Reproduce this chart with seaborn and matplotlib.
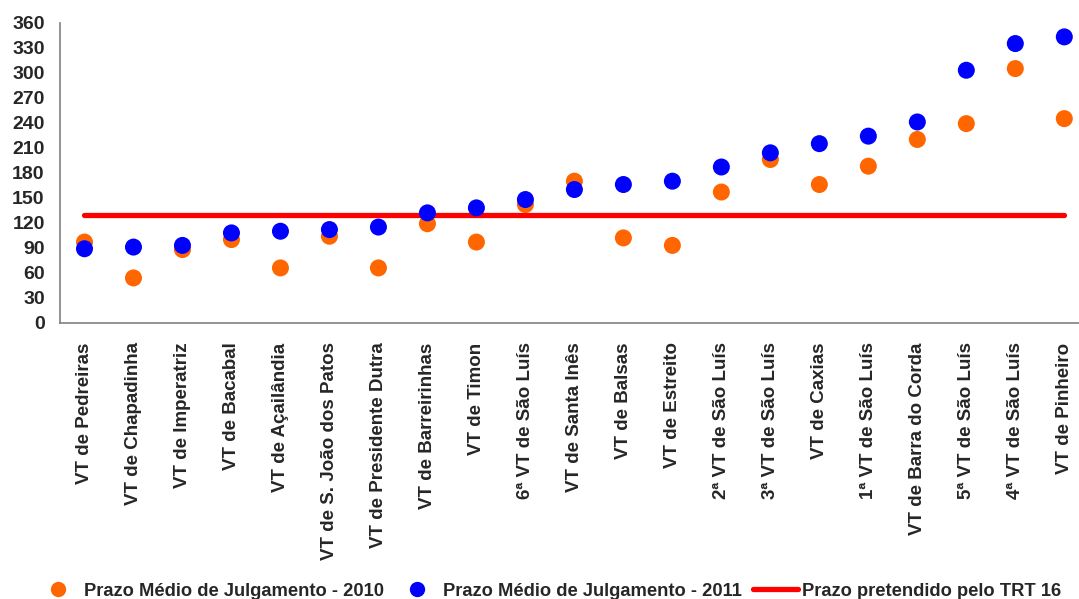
import numpy as np
import pandas as pd
import matplotlib
matplotlib.use('Agg')
import matplotlib.pyplot as plt
import seaborn as sns

# data
varas = ['VT de Pedreiras', 'VT de Chapadinha', 'VT de Imperatriz', 'VT de Bacabal',
         'VT de Açailândia', 'VT de S. João dos Patos', 'VT de Presidente Dutra',
         'VT de Barreirinhas', 'VT de Timon', '6ª VT de São Luís', 'VT de Santa Inês',
         'VT de Balsas', 'VT de Estreito', '2ª VT de São Luís', '3ª VT de São Luís',
         'VT de Caxias', '1ª VT de São Luís', 'VT de Barra do Corda', '5ª VT de São Luís',
         '4ª VT de São Luís', 'VT de Pinheiro']
prazo_2010 = [97, 54, 88, 100, 66, 104, 66, 119, 97, 142, 170, 102, 93, 157, 196,
              166, 188, 220, 239, 305, 245]
prazo_2011 = [89, 91, 93, 108, 110, 112, 115, 132, 138, 148, 160, 166, 170, 187, 204,
              215, 224, 241, 303, 335, 343]
prazo_trt = 130
yticks = list(range(0, 361, 30))

lab2010 = 'Prazo Médio de Julgamento - 2010'
lab2011 = 'Prazo Médio de Julgamento - 2011'
labtrt = 'Prazo pretendido pelo TRT 16'

sns.set_style('white')
plt.rcParams['font.family'] = ['Liberation Sans', 'DejaVu Sans']
plt.rcParams['font.weight'] = 'bold'

pos = np.arange(len(varas))
df = pd.DataFrame({
    'pos': np.concatenate([pos, pos]),
    'dias': prazo_2010 + prazo_2011,
    'serie': [lab2010] * len(varas) + [lab2011] * len(varas),
})
df_trt = pd.DataFrame({'pos': pos, 'dias': [prazo_trt] * len(varas)})

fig = plt.figure(figsize=(10.79, 5.99), dpi=100)
ax = fig.add_axes([0.0556, 0.4608, 1.0 - 0.0556, 0.9621 - 0.4608])

sns.lineplot(data=df_trt, x='pos', y='dias', color='#FF0000', linewidth=3.8,
             solid_capstyle='round', ax=ax, label=labtrt, zorder=1)
sns.scatterplot(data=df, x='pos', y='dias', hue='serie',
                palette={lab2010: '#FF6600', lab2011: '#0000FF'},
                s=150, linewidth=0, ax=ax, zorder=3)

ax.set_yticks(yticks)
ax.set_xticks(pos)
ax.set_xticklabels(varas, rotation=90, fontsize=13.5, fontweight='bold')
ax.set_xticks(np.arange(-0.5, len(varas), 1.0), minor=True)
# axis runs past the right edge like the original
ax.set_xlim(-0.5, 20.3)
ax.set_ylim(0, 360)
ax.tick_params(axis='x', which='major', length=0, pad=14)
ax.tick_params(axis='x', which='minor', length=6, width=1, color='#808080', direction='out')
ax.tick_params(axis='y', length=6, width=1, color='#808080', direction='out', labelsize=14, pad=5)
for t in ax.get_yticklabels():
    t.set_fontweight('bold')
ax.set_xlabel('')
ax.set_ylabel('')
sns.despine(ax=ax, top=True, right=True)
for s in ['left', 'bottom']:
    ax.spines[s].set_color('#808080')
    ax.spines[s].set_linewidth(1.2)

# legend in original order: 2010, 2011, target
h, l = ax.get_legend_handles_labels()
order = [l.index(lab2010), l.index(lab2011), l.index(labtrt)]
ax.legend_.remove()
fig.legend([h[i] for i in order], [l[i] for i in order], loc='center',
           bbox_to_anchor=(0.508, 0.013), ncol=3, frameon=False,
           prop={'size': 13.2, 'weight': 'bold'}, handlelength=2.45,
           columnspacing=0.6, handletextpad=0.2, markerscale=0.9,
           borderpad=0, borderaxespad=0)

fig.savefig('out.png', dpi=100)
